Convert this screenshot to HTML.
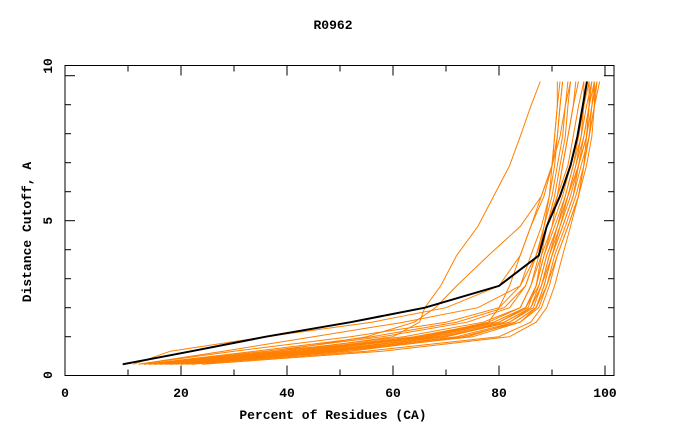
<!DOCTYPE html>
<html><head><meta charset="utf-8"><style>
body{margin:0;background:#fff;}
svg{display:block;font-family:"Liberation Mono",monospace;font-weight:bold;font-size:13px;}
</style></head><body>
<svg id="c" width="680" height="440" viewBox="0 0 680 440">
<text x="333" y="29" text-anchor="middle">R0962</text>
<text x="333" y="419" text-anchor="middle">Percent of Residues (CA)</text>
<text transform="translate(31,232) rotate(-90)" text-anchor="middle">Distance Cutoff, A</text>
<g id="series"></g>
<rect x="65" y="65.5" width="549" height="310" fill="none" stroke="#000" stroke-width="1"/>
<g id="ticks"></g>
</svg>
<script>
const cutoffs=[0.05,0.5,1,1.5,2,2.75,3.8,4.8,5.85,6.9,7.9,8.95,9.8];
const xTicks=[0,20,40,60,80,100];
const yTicks=[0,5,10];
const refModel=[9,22,36,52,66,80,87.5,89,91.5,93.5,94.8,95.8,96.6];
const models=[
[12,28,45,62,76,84,87,89,91,93,94,95,96],
[14,38,62,77,84,86,88,90,92,93.5,95,96,97],
[15,40,66,80,85,87,88.5,90.5,92.5,94,95.5,96.5,97.5],
[16,42,68,81,86,87.5,89,91,93,94.5,96,97,98],
[17,45,70,82,86.5,88,89.5,91.5,93.5,95,96.5,97.5,98.5],
[18,48,72,83,87,88.5,90,92,94,95.5,97,98,98.5],
[20,50,75,84,87.5,89,90.5,92.5,94.5,96,97,98,99],
[22,55,80,86,88,89.5,91,93,95,96,97,97.5,98],
[13,36,58,74,82,85,87,88.5,90,91,92,92.5,93],
[14,40,64,79,85,87,88,89,90.5,91.5,92.5,93,93.5],
[15,44,67,80,85.5,87,88.5,90,91,92,93,94,94.5],
[19,47,70,81,86,88,89.5,91,92.5,94,95,96,96],
[21,52,74,83,87,88.5,90,91.5,93,94.5,95.5,96,96.5],
[12,30,52,70,80,84,86,88,89.5,90.5,91,91.5,92],
[16,43,66,79,85,87.5,89,91,93,95,96,97,97],
[18,46,69,82,86,88,90,92,94,95,96.5,97,97.5],
[24,58,82,87,89,90.5,92,93.5,95,96,96.5,97,97],
[13,34,56,72,81,85,87,89,91,92,93,94,95],
[17,44,65,78,84,86,87.5,88.5,89.5,90,90.5,91,91],
[20,49,73,84,87,89,91,93,95,96.5,97.5,98,98],
[11,18,36,56,70,80,84,86,88,90,91.5,92.5,93.5],
[15,40,60,65,66,69,72,76,79,82,84,86,87.8],
[14,38,55,64,68,72,78,84,88,90,90.5,91,91.5],
[15,42,66,78,80,82,84,86,88.5,90,91,91.5,92]
];
const NS='http://www.w3.org/2000/svg';
const X=v=>75+v*5.3;
const Y=v=>365.7-v*29;
const sg=document.getElementById('series');
function line(arr,color,w,name){
  const p=document.createElementNS(NS,'polyline');
  p.setAttribute('points',arr.map((x,i)=>X(x).toFixed(1)+','+Y(cutoffs[i]).toFixed(1)).join(' '));
  p.setAttribute('fill','none');p.setAttribute('stroke',color);p.setAttribute('stroke-width',w);
  
  
  sg.appendChild(p);
}
models.forEach((m,i)=>line(m,'#ff8000',1,'model-line-'+(i+1)));
line(refModel,'#000',2,'reference-line');
const tg=document.getElementById('ticks');
function mk(tag,attrs,name,text){
  const e=document.createElementNS(NS,tag);
  for(const k in attrs)e.setAttribute(k,attrs[k]);
  
  
  if(text!==undefined)e.textContent=text;
  tg.appendChild(e);return e;
}
for(let v=10;v<=100;v+=10){
  const L=(v%20===0)?10:6;
  mk('line',{x1:X(v),x2:X(v),y1:375.5,y2:375.5-L,stroke:'#000'},'x-tick');
  mk('line',{x1:X(v),x2:X(v),y1:65.5,y2:65.5+L,stroke:'#000'},'x-tick-top');
}
for(let v=1;v<=10;v++){
  const L=(v%5===0)?10:6;
  mk('line',{x1:65,x2:65+L,y1:Y(v),y2:Y(v),stroke:'#000'},'y-tick');
  mk('line',{x1:614,x2:614-L,y1:Y(v),y2:Y(v),stroke:'#000'},'y-tick-right');
}
xTicks.forEach(v=>{
  const x=v===0?65:X(v);
  mk('text',{x:x,y:397,'text-anchor':'middle'},'x-tick-label',String(v));
});
yTicks.forEach(v=>{
  const y=v===0?375:(v===10?66:Y(v));
  mk('text',{transform:'translate(52,'+y+') rotate(-90)','text-anchor':'middle'},'y-tick-label',String(v));
});
</script>
</body></html>
